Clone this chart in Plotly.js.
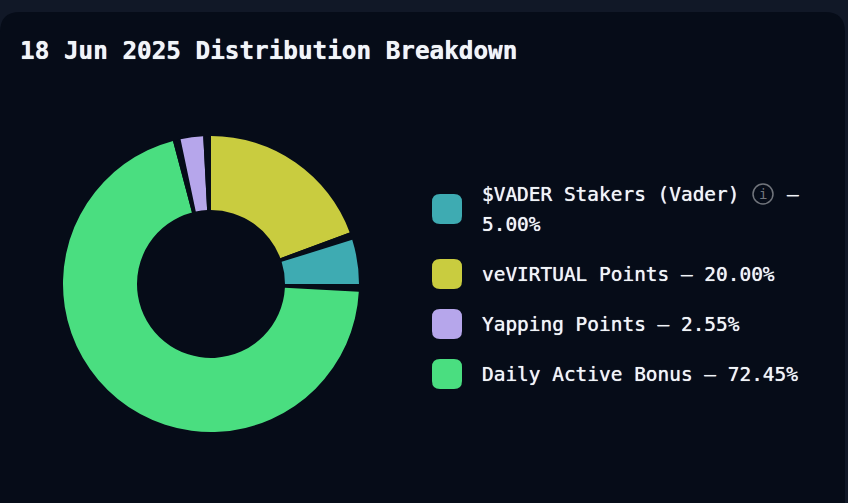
<!DOCTYPE html>
<html><head><meta charset="utf-8">
<script src="https://cdn.plot.ly/plotly-3.0.1.min.js"></script>
<style>html,body{margin:0;padding:0;background:#111827;overflow:hidden}#c{width:848px;height:503px}</style>
</head><body><div id="c"></div>
<script>
const chartTitle = "18 Jun 2025 Distribution Breakdown";
const categories = ["$VADER Stakers (Vader)", "veVIRTUAL Points", "Yapping Points", "Daily Active Bonus"];
const shares = [5.00, 20.00, 2.55, 72.45];
const colors = ["#3EABB2", "#C9CC3F", "#B6A6EB", "#4ADE80"];
// clockwise drawing order of the ring, starting at 12 o'clock
const ringOrder = [1, 0, 3, 2];
const gapShare = 0.862; // 3 degree separator between slices

const W = 848, H = 503;
const CARD = "#060C18", PAGE = "#111827", FONT = '"DejaVu Sans Mono", monospace', TEXT = "#F1F5F9", MUTED = "#71757C";
const fx = x => x / W, fy = y => 1 - y / H;
const cx = 211, cy = 284, R = 148;
const rrect = (x, y, w, h, r) => `M${x + r},${y}H${x + w - r}Q${x + w},${y} ${x + w},${y + r}V${y + h - r}Q${x + w},${y + h} ${x + w - r},${y + h}H${x + r}Q${x},${y + h} ${x},${y + h - r}V${y + r}Q${x},${y} ${x + r},${y}Z`;
const pct = v => v.toFixed(2) + "%";
const pixelShape = {xsizemode: "pixel", ysizemode: "pixel", xref: "paper", yref: "paper", xanchor: 0, yanchor: 1};

const swatchY = [209, 274, 324, 374];
const shapes = [Object.assign({type: "path", layer: "below", line: {width: 0}, fillcolor: CARD,
  path: `M0,-32Q0,-12 20,-12H825Q845,-12 845,-32V${-H}H0Z`}, pixelShape)];
categories.forEach((c, i) => {
  shapes.push(Object.assign({type: "path", line: {width: 0}, fillcolor: colors[i],
    path: rrect(432, -(swatchY[i] + 15), 30, 30, 8)}, pixelShape));
});
shapes.push(Object.assign({type: "circle", x0: 753, x1: 773, y0: -204, y1: -184,
  line: {color: MUTED, width: 1.5}, fillcolor: "rgba(0,0,0,0)"}, pixelShape));

const note = (text, x, y, size, color, thick) => ({text, x: fx(x), y: fy(y), xref: "paper", yref: "paper", xanchor: "left", yanchor: "middle", showarrow: false, borderpad: 0, borderwidth: 0,
  font: {family: FONT, size, color: color || TEXT, shadow: thick ? "0 0 0.7px " + (color || TEXT) : "none"}});

const annotations = [
  note("<b>" + chartTitle + "</b>", 20, 50, 24.3, TEXT, true),
  note(categories[0], 482, 194, 19.45, TEXT, true),
  note("–", 787, 194, 19.45, TEXT, true),
  note("i", 759, 194, 14, MUTED),
  note(pct(shares[0]), 482, 224, 19.45, TEXT, true)
];
[1, 2, 3].forEach(i => annotations.push(note(categories[i] + " – " + pct(shares[i]), 482, swatchY[i], 19.45, TEXT, true)));

const ringLabels = [], ringValues = [], ringColors = [];
ringOrder.forEach(i => {
  ringLabels.push(categories[i], "gap " + i);
  ringValues.push(shares[i], gapShare);
  ringColors.push(colors[i], CARD);
});

Plotly.newPlot("c", [{
  type: "pie", labels: ringLabels, values: ringValues, sort: false, direction: "clockwise", rotation: 0,
  hole: 0.5, textinfo: "none", hoverinfo: "skip", showlegend: false,
  marker: {colors: ringColors, line: {color: CARD, width: 0}},
  domain: {x: [fx(cx - R), fx(cx + R)], y: [fy(cy + R), fy(cy - R)]}
}], {
  width: W, height: H, margin: {l: 0, r: 0, t: 0, b: 0}, paper_bgcolor: PAGE, plot_bgcolor: PAGE,
  showlegend: false, shapes, annotations
}, {displayModeBar: false, staticPlot: true});
</script></body></html>
